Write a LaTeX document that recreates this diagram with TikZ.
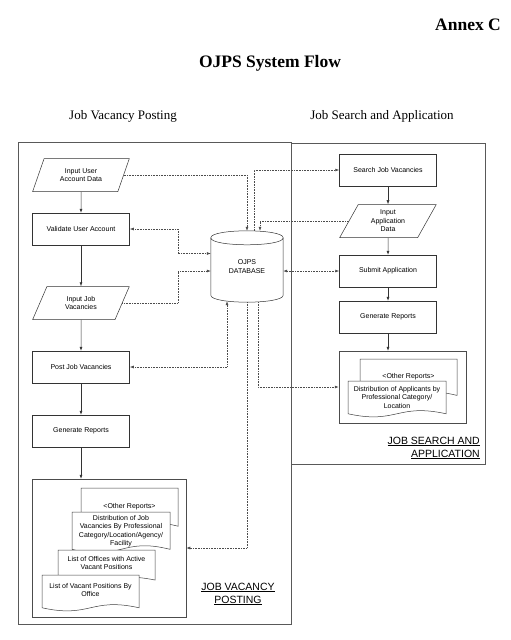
\documentclass[tikz,border=0pt]{standalone}
\usepackage{fontspec}
\setmainfont{Liberation Serif}
\newfontfamily\arialfont{Liberation Sans}
\usetikzlibrary{arrows.meta,shapes.geometric,calc}
\newcommand\docnode[7]{%
  \draw[docline] (#2,#3) -- (#4,#3) -- (#4,{#5-0.09*(#5-#3)}) .. controls ({(#2+#4)/2},{#5-0.39*(#5-#3)}) and ({(#2+#4)/2},{#5+0.21*(#5-#3)}) .. (#2,{#5-0.09*(#5-#3)}) -- cycle;
  \node[doctext] (#1) at ({(#2+#4)/2},#6) {#7};}
\begin{document}
\begin{tikzpicture}[x=1pt,y=-1pt,
  small/.style={font=\arialfont\fontsize{7}{8.5}\selectfont},
  box/.style={small, draw=black!80, line width=0.5pt, minimum width=97pt, minimum height=32pt, inner sep=1pt, align=center},
  io/.style={small, trapezium, trapezium left angle=64, trapezium right angle=116, trapezium stretches=true, draw=black!80, line width=0.5pt, minimum width=97pt, minimum height=33pt, inner sep=0pt, align=center},
  container/.style={draw=black!70, line width=0.5pt, inner sep=0pt},
  docline/.style={draw=black!75, line width=0.5pt, fill=white},
  doctext/.style={small, align=center, inner sep=0pt},
  shapeline/.style={draw=black!80, line width=0.5pt},
  flow/.style={draw=black!80, line width=0.5pt, -{Latex[length=4pt,width=3pt]}},
  link/.style={draw=black!70, densely dotted, line width=0.6pt, -{Latex[length=4pt,width=3pt]}},
  blink/.style={draw=black!70, densely dotted, line width=0.6pt, {Latex[length=4pt,width=3pt]}-{Latex[length=4pt,width=3pt]}},
  panel/.style={draw=black!65, line width=0.6pt},
  lbl/.style={font=\arialfont\fontsize{10.5}{13}\selectfont, align=center, inner sep=0pt}
]
\useasboundingbox[fill=white] (0,0) rectangle (511,640);

% titles
\node[anchor=east, font=\bfseries\fontsize{17.5}{20}\selectfont, inner sep=0pt] (annex) at (501,25) {Annex C};
\node[font=\bfseries\fontsize{17.5}{20}\selectfont, inner sep=0pt] (title) at (270,63) {OJPS System Flow};
\node[font=\fontsize{13}{15}\selectfont, inner sep=0pt] (hleft) at (123,116) {Job Vacancy Posting};
\node[font=\fontsize{13}{15}\selectfont, inner sep=0pt] (hright) at (382,116) {Job Search and Application};

% panels
\draw[panel] (18,142) rectangle (291,624);
\draw[panel] (291,143) rectangle (485,464);

% left column
\node[io] (iua) at (81,175) {Input User\\Account Data};
\node[box] (vua) at (81,229) {Validate User Account};
\node[io] (ijv) at (81,303) {Input Job\\Vacancies};
\node[box] (pjv) at (81,367) {Post Job Vacancies};
\node[box] (gr1) at (81,431) {Generate Reports};
\node[container, minimum width=154pt, minimum height=138pt] (lrep) at (109,548) {};
\docnode{d1}{81}{488}{178}{530}{507}{<Other Reports>}
\docnode{d2}{72}{512}{170}{553}{531}{Distribution of Job\\Vacancies By Professional\\Category/Location/Agency/\\Facility}
\docnode{d3}{58}{550}{155}{583}{563}{List of Offices with Active\\Vacant Positions}
\docnode{d4}{42}{575}{139}{611}{590}{List of Vacant Positions By\\Office}
\node[lbl] (lab1) at (238,594) {\underline{JOB VACANCY}\\\underline{POSTING}};

% database
\node[small, align=center, minimum width=72pt, minimum height=71pt, inner sep=0pt] (db) at (247,266.5) {OJPS\\DATABASE};
\draw[shapeline, fill=white] ([yshift=-7pt]db.north west) .. controls ([yshift=2.3pt]db.north west) and ([yshift=2.3pt]db.north east) .. ([yshift=-7pt]db.north east) -- ([yshift=7pt]db.south east) .. controls ([yshift=-2.3pt]db.south east) and ([yshift=-2.3pt]db.south west) .. ([yshift=7pt]db.south west) -- cycle;
\draw[shapeline] ([yshift=-7pt]db.north west) .. controls ([yshift=-16.3pt]db.north west) and ([yshift=-16.3pt]db.north east) .. ([yshift=-7pt]db.north east);
\node[small, align=center, inner sep=0pt] at (db.center) {OJPS\\DATABASE};

% right column
\node[box] (sjv) at (388,170) {Search Job Vacancies};
\node[io] (iad) at (388,221) {Input\\Application\\Data};
\node[box] (sa) at (388,271) {Submit Application};
\node[box] (gr2) at (388,317) {Generate Reports};
\node[container, minimum width=127pt, minimum height=72pt] (rrep) at (402.5,387) {};
\docnode{r1}{360}{359}{457}{399}{377}{<Other Reports>}
\docnode{r2}{348}{381}{446}{417}{397}{Distribution of Applicants by\\Professional Category/\\Location}
\node[lbl, anchor=east, align=right] (lab2) at (480,448) {\underline{JOB SEARCH AND}\\\underline{APPLICATION}};

% solid flow
\draw[flow] (iua) -- (vua);
\draw[flow] (vua) -- (ijv);
\draw[flow] (ijv) -- (pjv);
\draw[flow] (pjv) -- (gr1);
\draw[flow] (gr1.south) -- (gr1.south |- lrep.north);
\draw[flow] (sjv) -- (iad);
\draw[flow] (iad) -- (sa);
\draw[flow] (sa) -- (gr2);
\draw[flow] (gr2.south) -- (gr2.south |- rrep.north);

% dotted links with the database
\coordinate (jx) at (178,0);
\draw[link] (iua.east) -| (db.north);
\draw[link] ([xshift=7pt]db.north) |- (sjv.west);
\draw[link] (iad.west) -| ([xshift=13pt]db.north);
\draw[blink] (vua.east) -- (vua.east -| jx) |- ([yshift=13pt]db.west);
\draw[link] (ijv.east) -- (ijv.east -| jx) |- ([yshift=-4.5pt]db.west);
\draw[blink] (pjv.east) -| ([xshift=-20pt,yshift=1pt]db.south);
\draw[link] (db.south) |- (lrep.east);
\draw[link] ([xshift=11pt]db.south) |- (rrep.west);
\draw[blink] (sa.west) -- (sa.west -| db.east);
\end{tikzpicture}
\end{document}
